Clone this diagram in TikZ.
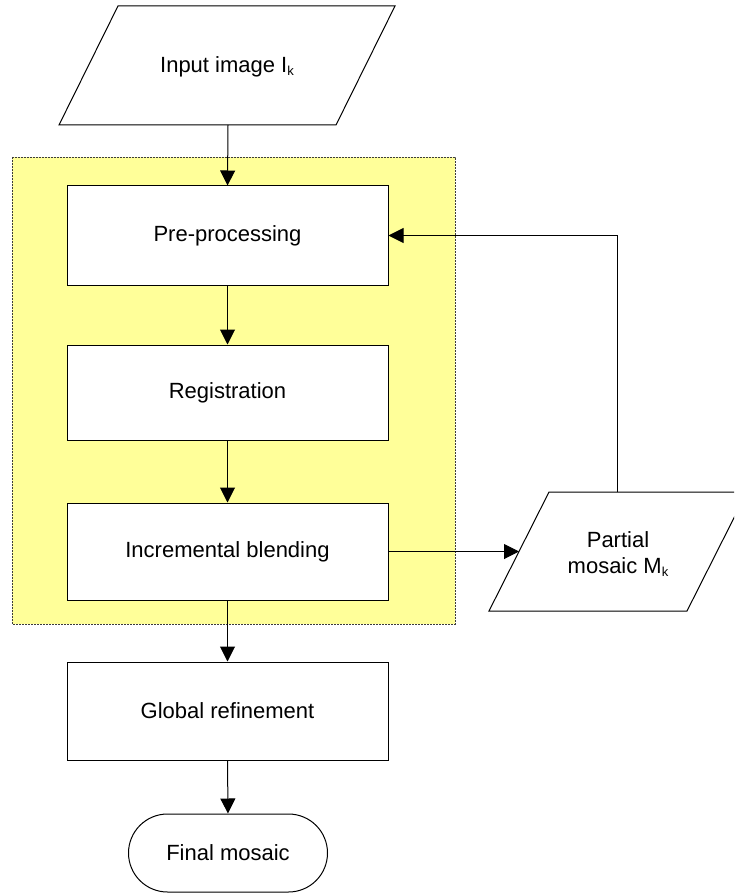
\documentclass[tikz,border=0pt]{standalone}
\usepackage{fontspec}
\setmainfont{Liberation Sans}
\usetikzlibrary{arrows.meta}
\definecolor{stagefill}{RGB}{255,255,153}
\definecolor{stageedge}{RGB}{60,60,60}
\newcommand{\sub}[1]{\raisebox{-3pt}{\fontsize{13}{13}\selectfont #1}}
\tikzset{
  every node/.style={font=\fontsize{22}{26}\selectfont},
  procbox/.style={draw=black, line width=1pt, fill=white, minimum width=321pt, inner sep=0pt},
  datashape/.style={draw=black, line width=1pt, fill=white},
  flow/.style={draw=black, line width=1pt, -{Triangle[length=15pt, width=15pt]}},
}
\begin{document}
\begin{tikzpicture}[x=1pt, y=-1pt]
  \useasboundingbox (0,0) rectangle (734,893);
  \clip (0,0) rectangle (734,893);

  % on-line stage background
  \draw[fill=stagefill, draw=stageedge, line width=0.8pt, dash pattern=on 2pt off 1pt]
    (12,157) rectangle (455,624);

  % input image (parallelogram)
  \draw[datashape] (118,6) -- (395,6) -- (336,125) -- (59,125) -- cycle;
  \node (input) at (227,67) {Input image I\sub{k}};
  \coordinate (inbot) at (228,125);

  % processing steps
  \node[procbox, minimum height=99pt] (pre)   at (227.5,235.5) {Pre-processing};
  \node[procbox, minimum height=95pt] (reg)   at (227.5,392.5) {Registration};
  \node[procbox, minimum height=97pt] (blend) at (227.5,551.5) {Incremental blending};
  \node[procbox, minimum height=98pt] (glob)  at (227.5,711)   {Global refinement};

  % final output (terminator)
  \node[draw=black, line width=1pt, fill=white, minimum width=199pt, minimum height=78pt,
        rounded corners=39pt] (final) at (228,853) {Final mosaic};

  % partial mosaic (parallelogram, running off the right edge)
  \draw[datashape] (549,492) -- (747,492) -- (687,611) -- (489,611) -- cycle;
  \node[align=center] (partial) at (618,554) {Partial\\[0pt]mosaic M\sub{k}};
  \coordinate (pmleft) at (519,551.5);
  \coordinate (pmtop) at (617,492);

  % connectors
  \draw[flow] (inbot) -- (pre.north);
  \draw[flow] (pre.south) -- (reg.north);
  \draw[flow] (reg.south) -- (blend.north);
  \draw[flow] (blend.south) -- (glob.north);
  \draw[flow] (glob.south) -- (final.north);
  \draw[flow] (blend.east) -- (pmleft);
  \draw[flow] (pmtop) |- (pre.east);
\end{tikzpicture}
\end{document}
